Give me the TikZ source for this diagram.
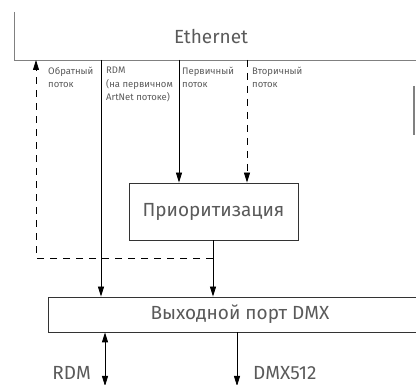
\documentclass[tikz,border=0pt]{standalone}
\usepackage{fontspec}
\setmainfont{Fira Sans}
\usetikzlibrary{arrows.meta}
\definecolor{txt}{HTML}{5A5A5A}
\definecolor{frame}{HTML}{333333}
\begin{document}
\begin{tikzpicture}[x=1pt,y=-1pt,
  bigtext/.style={text=txt,font=\fontsize{19}{22}\selectfont,inner sep=0pt},
  smalllabel/.style={text=txt,font=\fontsize{9.5}{13.3}\selectfont,align=left,anchor=north west,inner sep=0pt},
  boxnode/.style={draw=frame,line width=0.8pt,rectangle,inner sep=0pt},
  flow/.style={line width=0.8pt,-{Triangle[length=10pt,width=6pt]}},
  dashflow/.style={flow,dash pattern=on 7pt off 6pt},
  lineonly/.style={line width=0.8pt}]
\clip (0,0) rectangle (416,385);
% Ethernet frame
\draw[line width=0.8pt,draw=gray] (14,12) -- (14,60) -- (420,60);
\node[bigtext] (eth) at (211,37) {Ethernet};
\draw[line width=1.6pt,draw=gray] (414,86) -- (414,135);
% top coordinates on Ethernet line
\coordinate (ret) at (36,60);
\coordinate (rdmE) at (101,60);
\coordinate (prim) at (179,60);
\coordinate (sec) at (247,60);
\coordinate (junction) at (213,258);
% labels
\node[smalllabel] (l1) at (48,67) {Обратный\\поток};
\node[smalllabel] (l2) at (106,67) {RDM\\(на первичном\\ArtNet потоке)};
\node[smalllabel] (l3) at (182,67) {Первичный\\поток};
\node[smalllabel] (l4) at (252,67) {Вторичный\\поток};
% boxes
\node[boxnode,minimum width=169pt,minimum height=57pt,bigtext] (prio) at (213.5,211.5) {Приоритизация};
\node[boxnode,minimum width=384pt,minimum height=35pt,bigtext] (port) at (240,314.5) {Выходной порт DMX};
% flows
\draw[flow] (prim) -- (prim |- prio.north);
\draw[dashflow] (sec) -- (sec |- prio.north);
\draw[flow] (rdmE) -- (rdmE |- port.north);
\draw[flow] (prio.south -| junction) -- (junction |- port.north);
\draw[dashflow] (junction) -- (ret |- junction) -- (ret);
% outputs
\coordinate (rdmOut) at (105,385);
\coordinate (dmxOut) at (237,385);
\draw[line width=0.8pt,{Triangle[length=10pt,width=6pt]}-{Triangle[length=10pt,width=6pt]}] (rdmOut |- port.south) -- ([yshift=-1pt]rdmOut);
\draw[flow] (dmxOut |- port.south) -- ([yshift=-1pt]dmxOut);
\node[bigtext,anchor=base east] (rdmLabel) at (91,379.5) {RDM};
\node[bigtext,anchor=base west] (dmxLabel) at (253,379.5) {DMX512};
\end{tikzpicture}
\end{document}
